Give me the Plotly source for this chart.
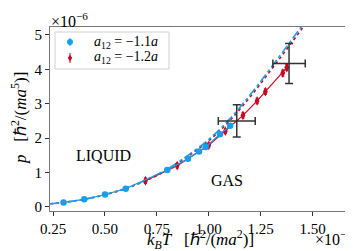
import plotly.graph_objects as go

# units: T in 1e-2 hbar^2/(m a^2), p in 1e-6 hbar^2/(m a^5)
T_11 = [0.30, 0.40, 0.50, 0.60, 0.80, 0.90, 0.953, 0.985, 1.054, 1.103]
p_11 = [0.13, 0.22, 0.36, 0.53, 1.07, 1.40, 1.61, 1.74, 2.11, 2.36]
perr_11 = [0.02] * len(T_11)

T_12 = [0.695, 0.848, 1.000, 1.080, 1.165, 1.233, 1.273, 1.357, 1.376]
p_12 = [0.76, 1.20, 1.79, 2.20, 2.66, 3.08, 3.35, 3.89, 4.05]
perr_12 = [0.08, 0.07, 0.07, 0.07, 0.08, 0.08, 0.08, 0.09, 0.09]

fit_T = [0.235, 0.30, 0.40, 0.50, 0.60, 0.70, 0.80, 0.90, 1.00, 1.10, 1.20, 1.30, 1.40, 1.50]
fit_p_11 = [0.09, 0.13, 0.22, 0.36, 0.54, 0.79, 1.10, 1.50, 1.96, 2.55, 3.26, 4.05, 4.86, 5.70]
fit_p_12 = [0.09, 0.13, 0.22, 0.35, 0.53, 0.77, 1.07, 1.47, 1.92, 2.50, 3.20, 3.98, 4.78, 5.60]

cross_T = [1.135, 1.387]
cross_Terr = [0.089, 0.078]
cross_p = [2.50, 4.17]
cross_perr = [0.47, 0.58]

x_ticks = [0.25, 0.50, 0.75, 1.00, 1.25, 1.50]
y_ticks = [0, 1, 2, 3, 4, 5]

legend_labels = ["<i>a</i><sub>12</sub> = −1.1<i>a</i>", "<i>a</i><sub>12</sub> = −1.2<i>a</i>"]

BLUE = "#1a9ee8"
RED = "#c40a22"
FONT = "Liberation Serif"

W, H = 353, 251
ML, MR, MT, MB = 42, 7, 19, 48
PW, PH = W - ML - MR, H - MT - MB


def px(x):
    return (x - ML) / PW


def py(y):
    return (H - MB - y) / PH


fig = go.Figure()

fig.add_trace(go.Scatter(x=fit_T, y=fit_p_12, mode="lines", line=dict(color=RED, width=1.6, dash="dot", shape="spline"), showlegend=False))
fig.add_trace(go.Scatter(x=fit_T, y=fit_p_11, mode="lines", line=dict(color=BLUE, width=1.6, dash="dashdot", shape="spline"), showlegend=False))

fig.add_trace(go.Scatter(x=T_12, y=p_12, mode="lines+markers",
                         line=dict(color=RED, width=1.2),
                         marker=dict(symbol="diamond-tall", size=7, color=RED),
                         error_y=dict(type="data", array=perr_12, color=RED, thickness=1, width=1.5),
                         showlegend=False))
fig.add_trace(go.Scatter(x=T_11, y=p_11, mode="lines+markers",
                         line=dict(color=BLUE, width=1.2),
                         marker=dict(symbol="circle", size=6.5, color=BLUE),
                         error_y=dict(type="data", array=perr_11, color=BLUE, thickness=1, width=1.5),
                         showlegend=False))

fig.add_trace(go.Scatter(x=cross_T, y=cross_p, mode="markers", marker=dict(size=1, color="#333"),
                         error_x=dict(type="data", array=cross_Terr, color="#333", thickness=1.5, width=4),
                         error_y=dict(type="data", array=cross_perr, color="#333", thickness=1.5, width=4),
                         showlegend=False))

# manual legend (box, symbols, labels)
shapes = [
    dict(type="rect", xref="paper", yref="paper", x0=px(47), x1=px(161), y0=py(61), y1=py(24),
         line=dict(color="#d0d0d0", width=1), fillcolor="rgba(255,255,255,0.8)", layer="above"),
    dict(type="line", xref="paper", yref="paper", x0=px(62), x1=px(62), y0=py(30), y1=py(38),
         line=dict(color=BLUE, width=1), layer="above"),
    dict(type="circle", xref="paper", yref="paper", x0=px(59), x1=px(65), y0=py(37), y1=py(31),
         line=dict(color=BLUE, width=0), fillcolor=BLUE, layer="above"),
    dict(type="line", xref="paper", yref="paper", x0=px(62), x1=px(62), y0=py(45), y1=py(55),
         line=dict(color=RED, width=1), layer="above"),
    dict(type="path", xref="paper", yref="paper",
         path=f"M {px(62)} {py(46.5)} L {px(64.2)} {py(50)} L {px(62)} {py(53.5)} L {px(59.8)} {py(50)} Z",
         line=dict(color=RED, width=0), fillcolor=RED, layer="above"),
]
for y_c, lab in zip([34, 50], legend_labels):
    fig.add_annotation(xref="paper", yref="paper", x=px(84), y=py(y_c), xanchor="left", yanchor="middle",
                       text=lab, showarrow=False, font=dict(family=FONT, size=14, color="black"))

fig.add_annotation(x=0.491, y=1.48, text="LIQUID", showarrow=False, font=dict(family=FONT, size=16, color="black"))
fig.add_annotation(x=1.086, y=0.76, text="GAS", showarrow=False, font=dict(family=FONT, size=16, color="black"))
fig.add_annotation(xref="paper", yref="paper", x=px(41), y=py(12), xanchor="left", yanchor="middle",
                   text="×10<sup>−6</sup>", showarrow=False, font=dict(family=FONT, size=16, color="black"))
fig.add_annotation(xref="paper", yref="paper", x=px(346), y=py(230), xanchor="right", yanchor="middle",
                   text="×10<sup>−2</sup>", showarrow=False, font=dict(family=FONT, size=16, color="black"))
fig.add_annotation(xref="paper", yref="paper", x=px(192), y=py(231), xanchor="center", yanchor="middle",
                   text="<i>k<sub>B</sub>T</i>\u00a0\u00a0\u00a0[ℏ<sup>2</sup>/(<i>ma</i><sup>2</sup>)]",
                   showarrow=False, font=dict(family=FONT, size=17, color="black"))
fig.add_annotation(xref="paper", yref="paper", x=px(11), y=py(110), xanchor="center", yanchor="middle",
                   textangle=-90,
                   text="<i>p</i>\u00a0\u00a0\u00a0[ℏ<sup>2</sup>/(<i>ma</i><sup>5</sup>)]",
                   showarrow=False, font=dict(family=FONT, size=17, color="black"))

fig.update_layout(
    width=W, height=H,
    margin=dict(l=ML, r=MR, t=MT, b=MB),
    paper_bgcolor="white", plot_bgcolor="white",
    font=dict(family=FONT, size=15, color="black"),
    showlegend=False,
    shapes=shapes,
    xaxis=dict(range=[0.235, 1.70], tickvals=x_ticks, ticktext=[f"{v:.2f}" for v in x_ticks],
               showline=True, mirror=True, linecolor="#777", linewidth=1, ticks="outside", ticklen=4,
               tickcolor="#333", showgrid=False, zeroline=False, automargin=False),
    yaxis=dict(range=[-0.12, 5.23], tickvals=y_ticks,
               showline=True, mirror=True, linecolor="#777", linewidth=1, ticks="outside", ticklen=4,
               tickcolor="#333", showgrid=False, zeroline=False, automargin=False),
)

fig.write_html("out.html")
